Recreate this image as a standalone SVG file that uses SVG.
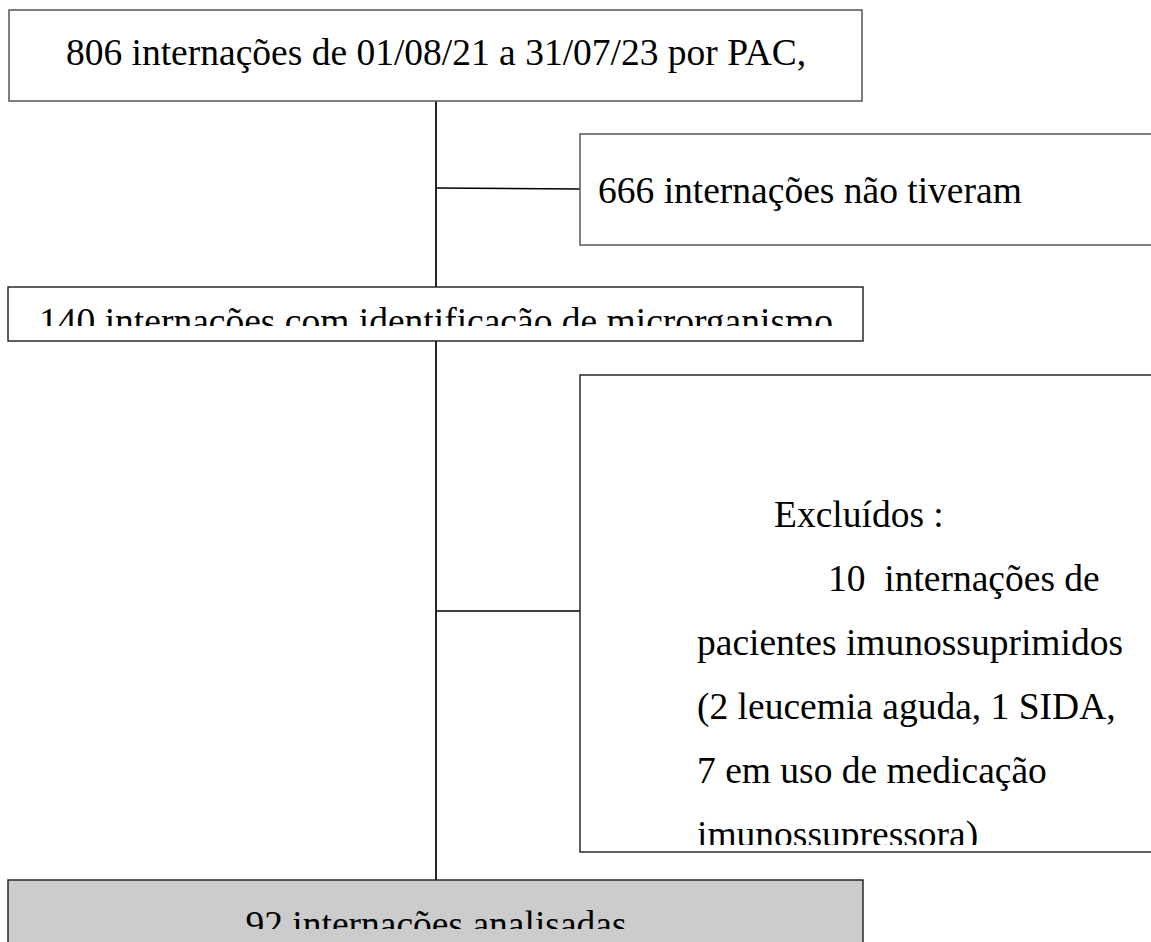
<svg xmlns="http://www.w3.org/2000/svg" width="1151" height="942" viewBox="0 0 1151 942">
<style>
.box{fill:#fff;stroke:#1a1a1a;stroke-width:1.4}
.gbox{fill:#fff;stroke:#555;stroke-width:1.5}
.final{fill:#cccccc;stroke:#1a1a1a;stroke-width:1.4}
.t{font-family:"Liberation Serif","Times New Roman",serif;font-size:37.5px;fill:#000;white-space:pre}
.c{stroke:#000;stroke-width:1.7;fill:none}
</style>
<defs>
<clipPath id="clip3"><rect x="8" y="287" width="855" height="39"/></clipPath>
<clipPath id="clip4"><rect x="580" y="375" width="580" height="470"/></clipPath>
<clipPath id="clip5"><rect x="8" y="880" width="855" height="49"/></clipPath>
</defs>
<g id="connectors">
<line class="c" x1="436" y1="101" x2="436" y2="287"/>
<line class="c" x1="436" y1="188" x2="580" y2="189"/>
<line class="c" x1="436" y1="341" x2="436" y2="880"/>
<line class="c" x1="436" y1="611" x2="580" y2="611"/>
</g>
<g id="n1">
<rect class="gbox" x="9" y="10" width="853" height="91"/>
<text class="t" x="436" y="65" text-anchor="middle">806 internações de 01/08/21 a 31/07/23 por PAC,</text>
</g>
<g id="n2">
<rect class="gbox" x="580" y="134" width="580" height="111"/>
<text class="t" x="598" y="203">666 internações não tiveram</text>
</g>
<g id="n3">
<rect class="box" x="8" y="287" width="855" height="54"/>
<text class="t" x="436" y="334" text-anchor="middle" clip-path="url(#clip3)">140 internações com identificação de microrganismo</text>
</g>
<g id="n4">
<rect class="box" x="580" y="375" width="580" height="477"/>
<g clip-path="url(#clip4)">
<text class="t" x="774" y="527">Excluídos :</text>
<text class="t" x="828" y="591" xml:space="preserve">10  internações de</text>
<text class="t" x="697" y="655">pacientes imunossuprimidos</text>
<text class="t" x="697" y="719">(2 leucemia aguda, 1 SIDA,</text>
<text class="t" x="697" y="783">7 em uso de medicação</text>
<text class="t" x="697" y="847">imunossupressora)</text>
</g>
</g>
<g id="n5">
<rect class="final" x="8" y="880" width="855" height="80"/>
<text class="t" x="436" y="937" text-anchor="middle" clip-path="url(#clip5)">92 internações analisadas</text>
</g>
</svg>
